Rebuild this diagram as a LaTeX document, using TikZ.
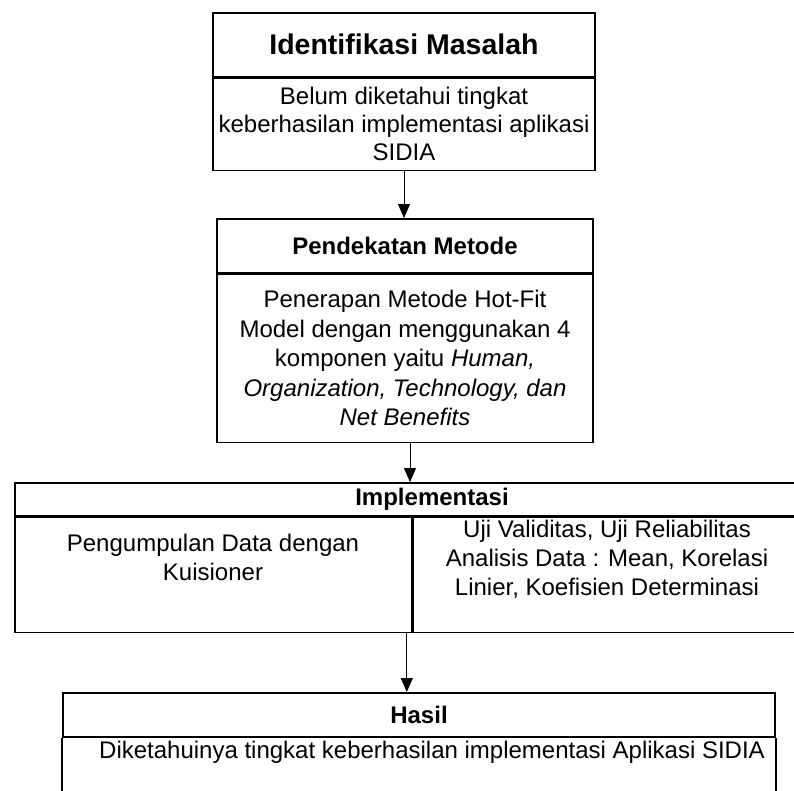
\documentclass[tikz,border=0pt]{standalone}
\usepackage{fontspec}
\setmainfont{Liberation Sans}
\usetikzlibrary{arrows.meta}

\tikzset{
  headbox/.style={draw, line width=1.6pt, inner sep=0pt, anchor=north, font=\fontsize{24}{29}\selectfont\bfseries},
  bodybox/.style={draw, line width=1.6pt, inner sep=0pt, anchor=north, align=center, font=\fontsize{24}{28}\selectfont},
  celltext/.style={align=center, inner sep=0pt, font=\fontsize{24}{29}\selectfont},
  flowarrow/.style={-{Triangle[length=14pt,width=12pt]}, line width=1pt},
}

\begin{document}
\begin{tikzpicture}[x=1pt, y=-1pt]
  \path[use as bounding box] (0,0) rectangle (794,790);
  \clip (0,0) rectangle (794,790);

  % identifikasi masalah
  \node[headbox, minimum width=382pt, minimum height=64pt, font=\fontsize{28.5}{34}\selectfont\bfseries] (idm) at (404,12) {Identifikasi Masalah};
  \node[bodybox, minimum width=382pt, minimum height=92pt] (idmbody) at (idm.south) {Belum diketahui tingkat\\keberhasilan implementasi aplikasi\\SIDIA};

  % pendekatan metode
  \node[headbox, minimum width=376pt, minimum height=54pt] (pm) at (405,218) {Pendekatan Metode};
  \node[bodybox, minimum width=376pt, minimum height=168pt, font=\fontsize{24}{29.5}\selectfont] (pmbody) at (pm.south) {Penerapan Metode Hot-Fit\\Model dengan menggunakan 4\\komponen yaitu \textit{Human,}\\\textit{Organization, Technology, dan}\\\textit{Net Benefits}};

  % implementasi
  \node[headbox, minimum width=834pt, minimum height=33pt] (imp) at (432,482) {Implementasi};
  \node[bodybox, anchor=north west, minimum width=397pt, minimum height=115pt] (pd) at (imp.south west) {};
  \node[bodybox, anchor=north west, minimum width=389pt, minimum height=115pt] (uji) at (pd.north east) {};
  \node[celltext] (pdtext) at (213,557) {Pengumpulan Data dengan\\Kuisioner};
  \node[celltext] (ujitext) at (607,559) {Uji Validitas, Uji Reliabilitas\\Analisis Data : Mean, Korelasi\\Linier, Koefisien Determinasi};

  % hasil
  \node[headbox, minimum width=712pt, minimum height=44pt] (hasil) at (419,692) {Hasil};
  \draw[line width=1.6pt] (hasil.south west) -- ++(0,70);
  \draw[line width=1.6pt] (hasil.south east) -- ++(0,70);
  \node[celltext] (hasiltext) at (432,752) {Diketahuinya tingkat keberhasilan implementasi Aplikasi SIDIA};

  \draw[flowarrow] (idmbody.south) -- (idmbody.south |- pm.north);
  \draw[flowarrow] ([xshift=5pt]pmbody.south) -- ([xshift=5pt]pmbody.south |- imp.north);
  \draw[flowarrow] ([xshift=-6pt]pd.south east) -- ([xshift=-6pt]pd.south east |- hasil.north);
\end{tikzpicture}
\end{document}
